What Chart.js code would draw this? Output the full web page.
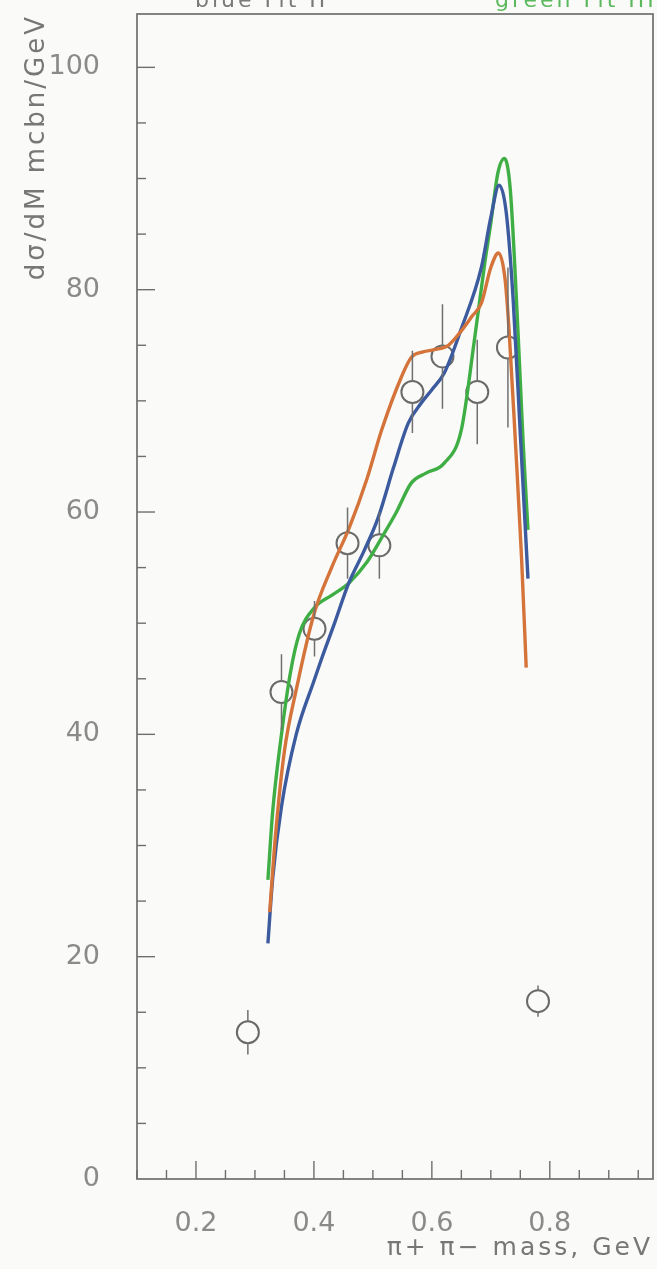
<!DOCTYPE html>
<html>
<head>
<meta charset="utf-8">
<script src="https://cdn.jsdelivr.net/npm/chart.js@4.4.1/dist/chart.umd.min.js"></script>
<style>
  html, body { margin: 0; padding: 0; background: #fafaf8; }
  canvas { display: block; }
</style>
</head>
<body>
<canvas id="c" width="657" height="1269"></canvas>
<script>
// Measured cross section, open circles with error bars
const massPoints = [0.288, 0.345, 0.401, 0.457, 0.511, 0.567, 0.618, 0.677, 0.729, 0.780];
const xsecPoints = [13.2, 43.8, 49.5, 57.2, 57.0, 70.8, 74.0, 70.8, 74.8, 16.0];
const xsecErrors = [2.0, 3.4, 2.5, 3.2, 3.0, 3.7, 4.7, 4.7, 7.2, 1.4];

// Fit curves
const orangeMass = [0.325, 0.335, 0.350, 0.370, 0.400, 0.430, 0.460, 0.490, 0.515, 0.548, 0.565, 0.585, 0.604, 0.628, 0.650, 0.668, 0.684, 0.700, 0.713, 0.724, 0.731, 0.742, 0.752, 0.760];
const orangeXsec = [24.0, 31.0, 38.5, 44.0, 50.8, 55.0, 58.6, 63.0, 67.4, 72.1, 73.9, 74.4, 74.6, 75.0, 76.3, 77.6, 78.8, 82.0, 83.3, 81.0, 76.3, 66.0, 56.0, 46.0];

const blueMass = [0.322, 0.330, 0.345, 0.370, 0.400, 0.413, 0.435, 0.459, 0.485, 0.509, 0.535, 0.560, 0.582, 0.600, 0.621, 0.650, 0.684, 0.700, 0.714, 0.726, 0.738, 0.750, 0.763];
const blueXsec = [21.2, 27.0, 33.5, 40.0, 44.8, 46.8, 50.0, 53.6, 56.5, 59.5, 64.0, 68.0, 69.8, 71.0, 72.5, 76.5, 82.0, 86.5, 89.4, 87.0, 79.0, 67.0, 54.0];

const greenMass = [0.322, 0.330, 0.345, 0.360, 0.375, 0.401, 0.430, 0.459, 0.490, 0.515, 0.540, 0.565, 0.590, 0.621, 0.650, 0.672, 0.690, 0.700, 0.712, 0.723, 0.733, 0.746, 0.755, 0.763];
const greenXsec = [26.9, 33.0, 40.0, 45.5, 49.0, 51.4, 52.5, 53.6, 55.5, 57.7, 60.0, 62.6, 63.5, 64.4, 67.4, 75.4, 82.5, 86.0, 90.5, 91.8, 89.0, 76.3, 66.0, 58.4];

// Axis tick labels
const xTickLabels = [0.2, 0.4, 0.6, 0.8];
const yTickLabels = [0, 20, 40, 60, 80, 100];

const toXY = (xs, ys) => xs.map((x, i) => ({ x: x, y: ys[i] }));

const AXIS_COLOR = '#6e6e6e';
const TEXT_COLOR = '#8a8a8a';
const FONT = '"DejaVu Sans", "Liberation Sans", sans-serif';
const POINT_RADIUS = 11;

// Axis titles are set with wide letter spacing
const titleSpacingPlugin = {
  id: 'titleSpacing',
  afterLayout(chart) {
    ['x', 'y'].forEach((id) => {
      const s = chart.scales[id];
      if (!s || s._spacedTitle) return;
      const orig = s.drawTitle;
      s.drawTitle = function () {
        const c = this.ctx;
        c.save();
        c.letterSpacing = '3px';
        orig.apply(this, arguments);
        c.restore();
      };
      s._spacedTitle = true;
    });
  }
};

// Plot frame plus inward-pointing tick marks
const framePlugin = {
  id: 'frame',
  beforeDatasetsDraw(chart) {
    const { ctx, chartArea: a, scales } = chart;
    ctx.save();
    ctx.strokeStyle = AXIS_COLOR;
    ctx.lineWidth = 1.7;
    ctx.strokeRect(a.left, a.top, a.right - a.left, a.bottom - a.top);
    ctx.lineWidth = 1.4;
    const xs = scales.x, ys = scales.y;
    for (let k = 2; k * 0.05 < xs.max - 1e-9; k++) {
      const v = k * 0.05;
      const px = xs.getPixelForValue(v);
      const major = xTickLabels.some(t => Math.abs(t - v) < 1e-6);
      const len = major ? 18 : 9;
      ctx.beginPath(); ctx.moveTo(px, a.bottom); ctx.lineTo(px, a.bottom - len); ctx.stroke();
    }
    for (let k = 1; k * 5 < ys.max; k++) {
      const v = k * 5;
      const py = ys.getPixelForValue(v);
      const major = yTickLabels.includes(v);
      const len = major ? 18 : 9;
      ctx.beginPath(); ctx.moveTo(a.left, py); ctx.lineTo(a.left + len, py); ctx.stroke();
    }
    ctx.restore();
  }
};

// Vertical error bars around the open circles
const errorBarPlugin = {
  id: 'errorBars',
  afterDatasetsDraw(chart) {
    const { ctx, scales } = chart;
    ctx.save();
    ctx.strokeStyle = '#707070';
    ctx.lineWidth = 1.5;
    massPoints.forEach((m, i) => {
      const px = scales.x.getPixelForValue(m);
      const pc = scales.y.getPixelForValue(xsecPoints[i]);
      const pTop = scales.y.getPixelForValue(xsecPoints[i] + xsecErrors[i]);
      const pBot = scales.y.getPixelForValue(xsecPoints[i] - xsecErrors[i]);
      ctx.beginPath();
      if (pc - POINT_RADIUS > pTop) { ctx.moveTo(px, pTop); ctx.lineTo(px, pc - POINT_RADIUS); }
      if (pc + POINT_RADIUS < pBot) { ctx.moveTo(px, pc + POINT_RADIUS); ctx.lineTo(px, pBot); }
      ctx.stroke();
    });
    ctx.restore();
  }
};

// Fit names along the top edge
const headerPlugin = {
  id: 'header',
  afterDraw(chart) {
    const { ctx } = chart;
    ctx.save();
    ctx.font = '22px ' + FONT;
    ctx.letterSpacing = '3px';
    ctx.textBaseline = 'alphabetic';
    ctx.fillStyle = '#7a7a7a';
    ctx.fillText('blue Fit II', 195, 7);
    ctx.fillStyle = '#5cb85c';
    ctx.fillText('green Fit III', 495, 7);
    ctx.restore();
  }
};

const curveStyle = (color) => ({
  showLine: true,
  borderColor: color,
  backgroundColor: color,
  borderWidth: 3.4,
  pointRadius: 0,
  cubicInterpolationMode: 'monotone',
  fill: false
});

new Chart(document.getElementById('c'), {
  type: 'scatter',
  data: {
    datasets: [
      Object.assign({ label: 'orange', data: toXY(orangeMass, orangeXsec) }, curveStyle('#d4733a')),
      Object.assign({ label: 'blue', data: toXY(blueMass, blueXsec) }, curveStyle('#3c5a9e')),
      Object.assign({ label: 'green', data: toXY(greenMass, greenXsec) }, curveStyle('#3fae45')),
      {
        label: 'data',
        data: toXY(massPoints, xsecPoints),
        showLine: false,
        pointStyle: 'circle',
        pointRadius: POINT_RADIUS,
        pointBorderWidth: 2,
        borderColor: '#6a6a6a',
        backgroundColor: 'rgba(0,0,0,0)'
      }
    ]
  },
  options: {
    responsive: false,
    animation: false,
    devicePixelRatio: 1,
    layout: { autoPadding: false, padding: { top: 14, right: 4, left: 0, bottom: 0 } },
    plugins: { legend: { display: false }, tooltip: { enabled: false } },
    scales: {
      x: {
        type: 'linear',
        min: 0.1,
        max: 0.975,
        grid: { display: false },
        border: { display: false },
        ticks: {
          stepSize: 0.05,
          autoSkip: false,
          maxRotation: 0,
          includeBounds: false,
          padding: 21,
          color: TEXT_COLOR,
          font: { family: FONT, size: 27 },
          callback: (v) => {
            const hit = xTickLabels.find(t => Math.abs(t - v) < 1e-6);
            return hit !== undefined ? hit.toFixed(1) : '';
          }
        },
        title: {
          display: true,
          text: 'π+ π− mass, GeV',
          align: 'end',
          color: '#777777',
          font: { family: FONT, size: 25 },
          padding: { top: 0, bottom: 6 }
        },
        afterFit: (s) => { s.height = 90; s.paddingLeft = 0; s.paddingRight = 0; }
      },
      y: {
        type: 'linear',
        min: 0,
        max: 104.8,
        grid: { display: false },
        border: { display: false },
        ticks: {
          stepSize: 5,
          autoSkip: false,
          includeBounds: false,
          padding: 29,
          color: TEXT_COLOR,
          font: { family: FONT, size: 27 },
          callback: (v) => yTickLabels.includes(v) ? String(v) : ''
        },
        title: {
          display: true,
          text: 'dσ/dM mcbn/GeV',
          align: 'end',
          color: '#777777',
          font: { family: FONT, size: 26 },
          padding: { top: 22, bottom: 0 }
        },
        afterFit: (s) => { s.width = 137; s.paddingTop = 0; s.paddingBottom = 0; }
      }
    }
  },
  plugins: [titleSpacingPlugin, framePlugin, errorBarPlugin, headerPlugin]
});
</script>
</body>
</html>
